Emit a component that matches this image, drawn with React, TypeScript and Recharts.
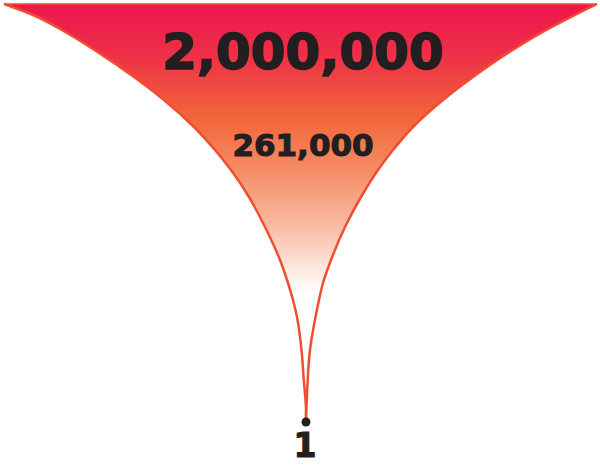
import { ComposedChart, Area, XAxis, YAxis, ReferenceDot, ReferenceLine } from 'recharts';

// depth below the top edge, with the left and right edge of the funnel at that depth
const depthLevels = [4, 15, 33, 53, 77, 100, 127, 150, 170, 197, 227, 260, 283, 300, 317, 350, 383, 400, 410, 420];
const leftEdge = [4, 33, 67, 99, 134, 164, 194, 215, 231, 249, 265, 280, 288, 293, 297, 301.5, 304, 305.5, 306, 306];
const rightEdge = [597, 575, 541, 508, 473, 443, 413, 393, 378, 361, 345, 331, 323, 319, 315.5, 310, 307.5, 306.8, 306.3, 306];

// funnel stages: label, horizontal centre, depth of the label's middle, font size
const stageLabels = ['2,000,000', '261,000', '1'];
const stageCenter = [303, 303, 305];
const stageDepth = [51, 145, 445];
const stageFontSize = [50, 31, 33];
const stageOutline = [1.6, 1.1, 1.1];

const chartData = depthLevels.map((depth, i) => ({ depth, span: [leftEdge[i], rightEdge[i]] }));

const last = depthLevels.length - 1;

export default function App() {
  return (
    <div style={{ position: 'absolute', left: 0, top: 0, background: '#fff' }}>
      <ComposedChart
        width={600}
        height={465}
        layout="vertical"
        data={chartData}
        margin={{ top: 0, right: 0, bottom: 0, left: 0 }}
      >
        <defs>
          <linearGradient id="funnelFill" x1="0" y1="0" x2="0" y2="1">
            <stop offset="0%" stopColor="#EC174D" />
            <stop offset="12%" stopColor="#EE2F47" />
            <stop offset="28%" stopColor="#F2683B" />
            <stop offset="40%" stopColor="#F58D66" />
            <stop offset="54%" stopColor="#F9BDA5" />
            <stop offset="64%" stopColor="#FDEAE2" />
            <stop offset="70%" stopColor="#FFFFFF" />
            <stop offset="100%" stopColor="#FFFFFF" />
          </linearGradient>
        </defs>
        <XAxis type="number" domain={[0, 600]} allowDataOverflow hide />
        <YAxis type="number" dataKey="depth" domain={[0, 465]} allowDataOverflow hide />
        <Area
          type="monotone"
          dataKey="span"
          stroke="#F04E30"
          strokeWidth={2.5}
          fill="url(#funnelFill)"
          fillOpacity={1}
          dot={false}
          activeDot={false}
          isAnimationActive={false}
        />
        <ReferenceLine
          segment={[
            { x: leftEdge[0], y: depthLevels[0] },
            { x: rightEdge[0], y: depthLevels[0] },
          ]}
          stroke="#F04E30"
          strokeWidth={1.5}
        />
        <ReferenceDot
          x={leftEdge[last]}
          y={depthLevels[last] + 2}
          r={4.5}
          fill="#231F20"
          stroke="none"
        />
        {stageLabels.map((label, i) => (
          <ReferenceDot
            key={label}
            x={stageCenter[i]}
            y={stageDepth[i]}
            r={0}
            fill="none"
            stroke="none"
            label={{
              value: label,
              position: 'center',
              fill: '#231F20',
              stroke: '#231F20',
              strokeWidth: stageOutline[i],
              fontSize: stageFontSize[i],
              fontWeight: 'bold',
              fontFamily: 'DejaVu Sans',
            }}
          />
        ))}
      </ComposedChart>
    </div>
  );
}
